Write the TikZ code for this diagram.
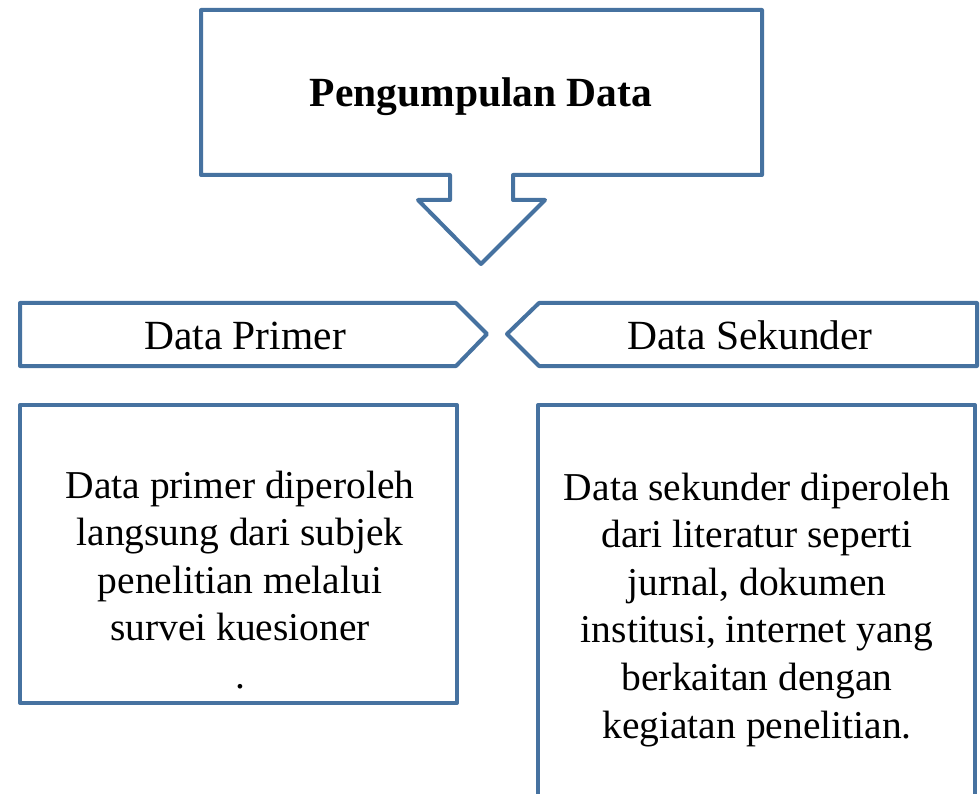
\documentclass[tikz,border=0pt]{standalone}
\usepackage{fontspec}
\setmainfont{Liberation Serif}
\definecolor{bd}{RGB}{70,114,160}
\begin{document}
\begin{tikzpicture}[x=1pt,y=-1pt,
  shp/.style={draw=bd,line width=4pt,line join=round,fill=white},
  txt/.style={inner sep=0pt,anchor=base,font=\fontsize{39.5}{47.5}\selectfont},
  lbl/.style={inner sep=0pt,anchor=base,font=\fontsize{41.5}{48}\selectfont}]
\useasboundingbox (0,0) rectangle (980,794);
\begin{scope}
\clip (0,0) rectangle (980,794);
% top callout
\draw[shp] (201,10) -- (762,10) -- (762,175) -- (513,175) -- (513,200) -- (545,200)
  -- (481,264) -- (418,200) -- (450,200) -- (450,175) -- (201,175) -- cycle;
\node[lbl,font=\fontsize{41.5}{48}\selectfont\bfseries] (title) at (481,107) {Pengumpulan Data};
% pentagons
\draw[shp] (20,303) -- (456,303) -- (487,334) -- (456,366) -- (20,366) -- cycle;
\node[lbl] (prim) at (245,349) {Data Primer};
\draw[shp] (977,303) -- (539,303) -- (507,334) -- (539,366) -- (977,366) -- cycle;
\node[lbl] (sek) at (750,349) {Data Sekunder};
% boxes
\draw[shp] (20,405) rectangle (457,703);
\draw[shp] (538,405) -- (975,405) -- (975,820) -- (538,820) -- cycle;
% left text
\foreach \t [count=\i] in {Data primer diperoleh,langsung dari subjek,penelitian melalui,survei kuesioner,.}
  \node[txt] (pl\i) at (240,498+47.5*\i-47.5) {\t};
% right text
\foreach \t [count=\i] in {Data sekunder diperoleh,dari literatur seperti,{jurnal, dokumen},{institusi, internet yang},berkaitan dengan,kegiatan penelitian.}
  \node[txt] (sl\i) at (757,500+47.6*\i-47.6) {\t};
\end{scope}
\end{tikzpicture}
\end{document}
